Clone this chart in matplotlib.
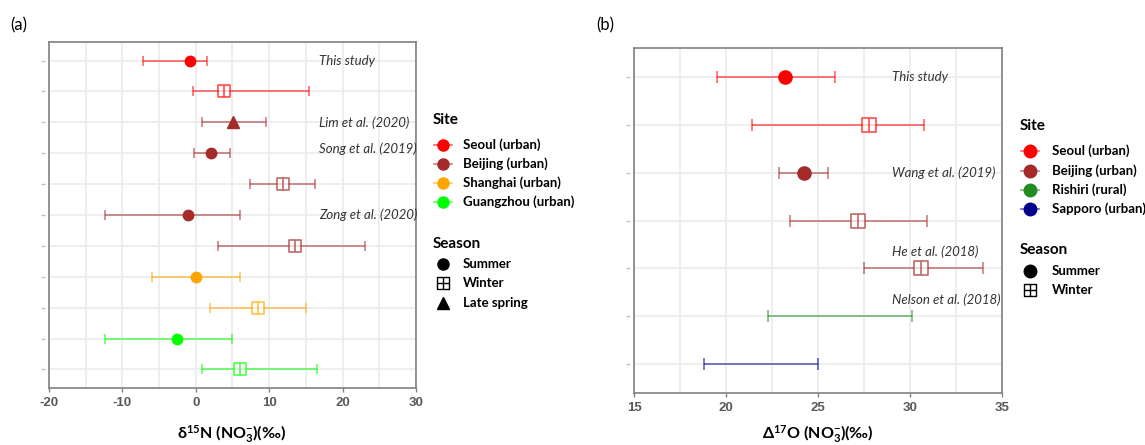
import numpy as np
import matplotlib
matplotlib.use("Agg")
import matplotlib.pyplot as plt
from matplotlib.path import Path
from matplotlib.lines import Line2D
from matplotlib.transforms import blended_transform_factory

plt.rcParams["font.family"] = ["Lato", "DejaVu Sans"]
plt.rcParams["axes.unicode_minus"] = False
plt.rcParams["mathtext.fontset"] = "custom"
plt.rcParams["mathtext.rm"] = "Lato"
plt.rcParams["mathtext.bf"] = "Lato:bold"
plt.rcParams["mathtext.default"] = "bf"

# ---- panel (a): d15N ----
a_site = ["Seoul", "Seoul", "Beijing", "Beijing", "Beijing", "Beijing",
          "Beijing", "Shanghai", "Shanghai", "Guangzhou", "Guangzhou"]
a_season = ["Summer", "Winter", "Late spring", "Summer", "Winter", "Summer",
            "Winter", "Summer", "Winter", "Summer", "Winter"]
a_mean = [-0.8, 3.8, 5.1, 2.1, 11.9, -1.0, 13.5, 0.0, 8.5, -2.6, 6.0]
a_low = [-7.2, -0.4, 0.8, -0.3, 7.4, -12.4, 3.0, -6.0, 2.0, -12.4, 0.9]
a_high = [1.5, 15.4, 9.5, 4.7, 16.3, 6.0, 23.0, 6.0, 15.0, 4.9, 16.5]
a_notes = {1: "This study", 3: "Lim et al. (2020)", 4: "Song et al. (2019)",
           6: "Zong et al. (2020)"}

# ---- panel (b): D17O ----
b_site = ["Seoul", "Seoul", "Beijing", "Beijing", "Beijing", "Rishiri", "Sapporo"]
b_season = ["Summer", "Winter", "Summer", "Winter", "Winter", None, None]
b_mean = [23.2, 27.75, 24.25, 27.2, 30.6, np.nan, np.nan]
b_low = [19.5, 21.4, 22.9, 23.5, 27.5, 22.3, 18.8]
b_high = [25.9, 30.75, 25.55, 30.95, 33.95, 30.1, 25.0]
b_notes = {1: "This study", 3: "Wang et al. (2019)", 5: "He et al. (2018)",
           6: "Nelson et al. (2018)"}

site_colors = {"Seoul": "#ff0000", "Beijing": "#a52a2a", "Shanghai": "#ffa500",
               "Guangzhou": "#00ff00", "Rishiri": "#228b22", "Sapporo": "#00008b"}
a_legend = [("Seoul (urban)", "Seoul"), ("Beijing (urban)", "Beijing"),
            ("Shanghai (urban)", "Shanghai"), ("Guangzhou (urban)", "Guangzhou")]
b_legend = [("Seoul (urban)", "Seoul"), ("Beijing (urban)", "Beijing"),
            ("Rishiri (rural)", "Rishiri"), ("Sapporo (urban)", "Sapporo")]

# winter marker: square with vertical bar (plot) / square with cross (legend)
winter_mk = Path([(-1, -1), (1, -1), (1, 1), (-1, 1), (-1, -1), (0, -1), (0, 1)],
                 [Path.MOVETO, Path.LINETO, Path.LINETO, Path.LINETO,
                  Path.CLOSEPOLY, Path.MOVETO, Path.LINETO])
winter_leg = Path([(-1, -1), (1, -1), (1, 1), (-1, 1), (-1, -1), (0, -1), (0, 1),
                   (-1, 0), (1, 0)],
                  [Path.MOVETO, Path.LINETO, Path.LINETO, Path.LINETO,
                   Path.CLOSEPOLY, Path.MOVETO, Path.LINETO, Path.MOVETO, Path.LINETO])

W, H = 1145, 445
fig = plt.figure(figsize=(W / 100, H / 100), dpi=100)


def px_axes(x0, y0, x1, y1):
    return fig.add_axes([x0 / W, 1 - y1 / H, (x1 - x0) / W, (y1 - y0) / H])


def draw_panel(ax, sites, seasons, mean, low, high, notes, xlim, major, minor,
               ms_sum, ms_win, cap, note_x, note_dy):
    n = len(sites)
    rows = np.arange(1, n + 1)
    low = np.asarray(low)
    high = np.asarray(high)
    mid = (low + high) / 2
    for i in range(n):
        c = site_colors[sites[i]]
        ax.errorbar(mid[i], rows[i], xerr=(high[i] - low[i]) / 2, fmt="none",
                    ecolor=c, alpha=0.6, elinewidth=1.2, capsize=cap,
                    capthick=1.2, zorder=3)
        s = seasons[i]
        if s == "Summer":
            ax.plot(mean[i], rows[i], "o", color=c, ms=ms_sum, zorder=4)
        elif s == "Winter":
            ax.plot(mean[i], rows[i], marker=winter_mk, ls="none", mfc="white",
                    mec=c, alpha=0.7, ms=ms_win, mew=1.2, zorder=4)
        elif s == "Late spring":
            ax.plot(mean[i], rows[i], "^", color=c, ms=ms_sum + 1, zorder=4)
    for r, txt in notes.items():
        ax.text(note_x, r + note_dy.get(r, 0), txt, style="italic", fontsize=9.5,
                color="#333333", va="center", ha="left")
    ax.set_xlim(*xlim)
    ax.set_ylim(n + 0.6, 0.4)
    ax.set_xticks(major)
    ax.set_xticks(minor, minor=True)
    ax.set_yticks(rows)
    ax.set_yticklabels([])
    ax.tick_params(axis="y", length=0)
    ax.tick_params(axis="x", which="major", length=3, color="#808080", width=1)
    ax.tick_params(axis="x", which="minor", length=0)
    for lab in ax.get_xticklabels():
        lab.set_fontfamily("Liberation Sans")
        lab.set_fontweight("bold")
        lab.set_color("#595959")
        lab.set_fontsize(9.5)
    ax.grid(True, which="both", color="#ebebeb", lw=1.2)
    ax.set_axisbelow(True)
    for sp in ax.spines.values():
        sp.set_color("#808080")
        sp.set_linewidth(1.2)
    # small row marks left of the frame
    tr = blended_transform_factory(ax.transAxes, ax.transData)
    ax.plot(np.full(n, -0.016), rows, "_", ms=3, color="#b8c4d4", transform=tr,
            clip_on=False)


ax_a = px_axes(49, 42, 416, 388)
draw_panel(ax_a, a_site, a_season, a_mean, a_low, a_high, a_notes, (-20, 30),
           np.arange(-20, 31, 10), np.arange(-15, 30, 10), 7.5, 8.5, 3.5,
           16.8, {4: -0.15})

ax_b = px_axes(634, 48, 1002, 393)
draw_panel(ax_b, b_site, b_season, b_mean, b_low, b_high, b_notes, (15, 35),
           np.arange(15, 36, 5), np.arange(17.5, 35, 5), 9.5, 9.5, 4.5,
           29.0, {5: -0.35, 6: -0.35})

fig.text(232 / W, 1 - 434 / H, "δ$^{15}$N (NO$_3^{-}$)(‰)", fontsize=11.5,
         fontweight="bold", ha="center", va="center")
fig.text(818 / W, 1 - 434 / H, "Δ$^{17}$O (NO$_3^{-}$)(‰)", fontsize=11.5,
         fontweight="bold", ha="center", va="center")

fig.text(10 / W, 1 - 25 / H, "(a)", fontsize=12, va="center", ha="left")
fig.text(596 / W, 1 - 25 / H, "(b)", fontsize=12, va="center", ha="left")


def draw_legend(x_mk, x_txt, y_site, y_items, y_season, y_seasons, entries,
                seasons, ms):
    def fy(y):
        return 1 - y / H
    fig.text(x_mk / W - 10 / W, fy(y_site), "Site", fontsize=11, fontweight="bold",
             va="center")
    for (lab, key), y in zip(entries, y_items):
        c = site_colors[key]
        fig.add_artist(Line2D([(x_mk - 9) / W, (x_mk + 9) / W], [fy(y), fy(y)],
                              color=c, alpha=0.6, lw=1.2))
        fig.add_artist(Line2D([x_mk / W], [fy(y)], marker="o", color=c, ms=ms))
        fig.text(x_txt / W, fy(y), lab, fontsize=9.5, fontweight="bold",
                 va="center")
    fig.text(x_mk / W - 10 / W, fy(y_season), "Season", fontsize=11,
             fontweight="bold", va="center")
    for s, y in zip(seasons, y_seasons):
        if s == "Summer":
            mk = dict(marker="o", color="black", ms=ms)
        elif s == "Winter":
            mk = dict(marker=winter_leg, mfc="white", mec="black", ms=8, mew=1)
        else:
            mk = dict(marker="^", color="black", ms=ms)
        fig.add_artist(Line2D([x_mk / W], [fy(y)], ls="none", **mk))
        fig.text(x_txt / W, fy(y), s, fontsize=9.5, fontweight="bold", va="center")


draw_legend(443, 463, 120, [145, 164, 183, 202], 244, [264, 283, 303],
            a_legend, ["Summer", "Winter", "Late spring"], 8)
draw_legend(1030, 1052, 126, [151, 171, 190, 209], 250, [271, 290],
            b_legend, ["Summer", "Winter"], 9)

fig.savefig("out.png", dpi=100)
